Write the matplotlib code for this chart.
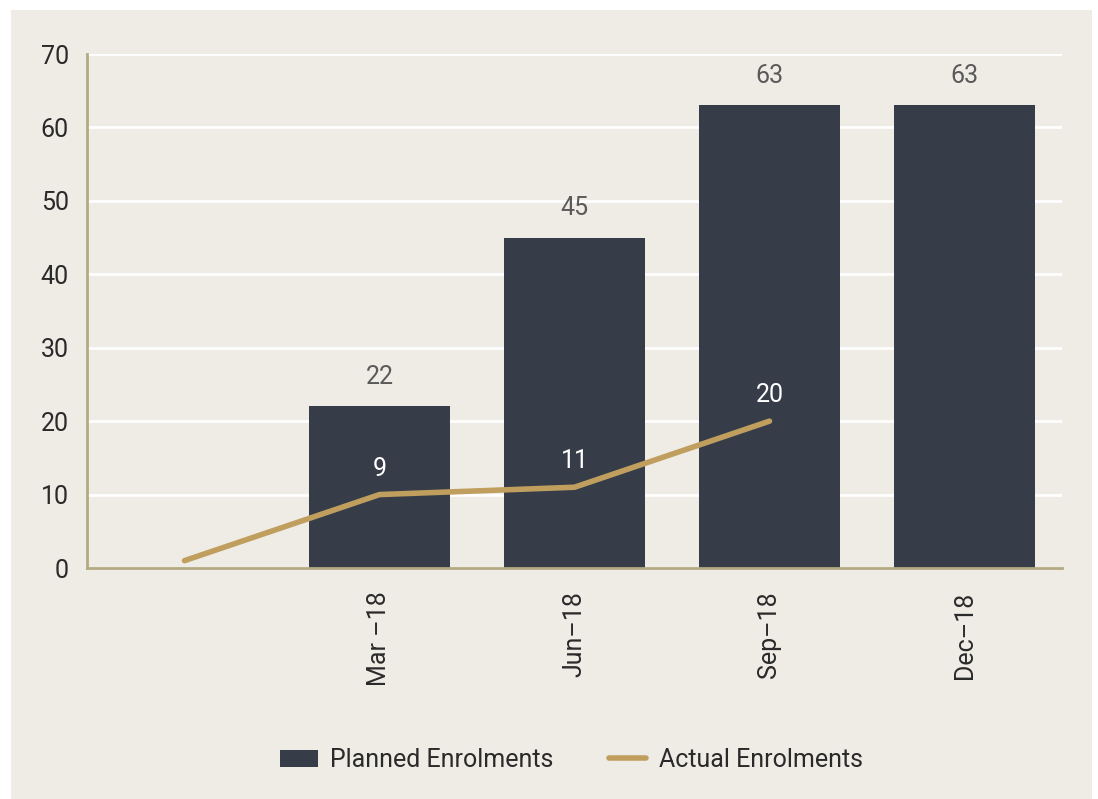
import matplotlib
matplotlib.use("Agg")

import matplotlib.pyplot as plt
from matplotlib.patches import Rectangle
from matplotlib.lines import Line2D
from matplotlib.patches import Patch


categories = ["", "Mar \u201318", "Jun\u201318", "Sep\u201318", "Dec\u201318"]
planned = [0, 22, 45, 63, 63]
actual = [1, 10, 11, 20]
planned_labels = ["", "22", "45", "63", "63"]
actual_labels = ["", "9", "11", "20"]

BG = "#efece6"
BAR = "#363d49"
LINE = "#c09f5e"
SPINE = "#b3aa82"
FS = 18
WEIGHT = "normal"
TXT = "#2a2a2a"

plt.rcParams["font.family"] = ["Roboto", "DejaVu Sans"]

fig = plt.figure(figsize=(10.98, 7.99), dpi=100)
fig.patch.set_facecolor("white")
fig.patches.append(
    Rectangle((11 / 1098, 0), 1081 / 1098, 789 / 799,
              transform=fig.transFigure, facecolor=BG,
              edgecolor="none", zorder=-10)
)

ax = fig.add_axes([87 / 1098, 1 - 568 / 799, 975 / 1098, 514 / 799])
ax.set_facecolor(BG)

x = list(range(len(categories)))

ax.bar(x, planned, width=0.725, color=BAR, zorder=2)
ax.plot(x[:len(actual)], actual, color=LINE, linewidth=4,
        solid_capstyle="round", zorder=3)

for i, (v, lab) in enumerate(zip(planned, planned_labels)):
    if lab:
        ax.text(i, v + 2.4, lab, ha="center", va="bottom",
                fontsize=FS, color="#5a5a5a", fontweight=WEIGHT)

for i, (v, lab) in enumerate(zip(actual, actual_labels)):
    if lab:
        ax.text(i, v + 1.9, lab, ha="center", va="bottom",
                fontsize=FS, color="white", fontweight=WEIGHT)

ax.set_xlim(-0.5, 4.5)
ax.set_ylim(0, 70)
ax.set_yticks(range(0, 71, 10))
ax.yaxis.grid(True, color="white", linewidth=2, zorder=1)
ax.set_axisbelow(True)

ax.set_xticks(x)
ax.set_xticklabels(categories, rotation=90, fontsize=FS,
                   color=TXT, fontweight=WEIGHT)
ax.tick_params(axis="x", length=0, pad=17)
ax.tick_params(axis="y", length=0, pad=13, labelsize=FS,
               labelcolor=TXT)
for t in ax.get_yticklabels():
    t.set_fontweight(WEIGHT)

for s in ["top", "right"]:
    ax.spines[s].set_visible(False)
for s in ["left", "bottom"]:
    ax.spines[s].set_color(SPINE)
    ax.spines[s].set_linewidth(2)

handles = [
    Patch(facecolor=BAR, label="Planned Enrolments"),
    Line2D([0], [0], color=LINE, linewidth=4, label="Actual Enrolments",
           solid_capstyle="round"),
]
leg = fig.legend(handles=handles, loc="center", ncol=2,
                 bbox_to_anchor=(0.5205, 1 - 760 / 799), frameon=False,
                 prop={"size": FS, "weight": WEIGHT},
                 handlelength=1.5, handletextpad=0.5, columnspacing=2.2)
for t in leg.get_texts():
    t.set_color(TXT)

fig.savefig("out.png", dpi=100, facecolor="white")
